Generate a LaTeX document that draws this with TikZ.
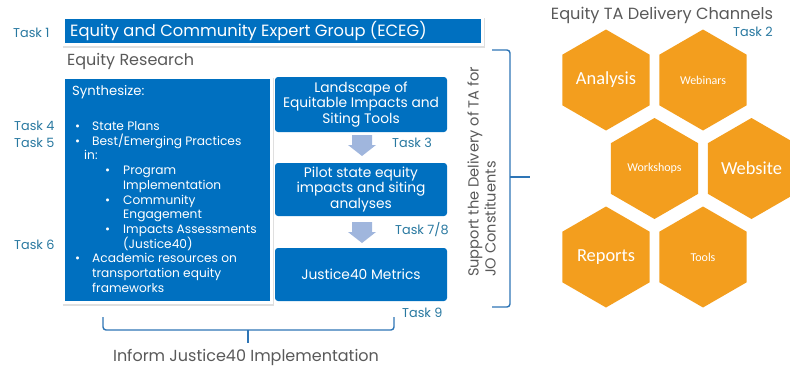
\documentclass[tikz,border=0pt]{standalone}
\usepackage{fontspec}
\setmainfont{Poppins}
\newfontfamily\hexfont{Carlito}
\usetikzlibrary{shapes.geometric,shadows,calc}
\definecolor{boxblue}{RGB}{0,112,192}
\definecolor{taskcol}{RGB}{40,120,160}
\definecolor{graytxt}{RGB}{89,89,89}
\definecolor{hexor}{RGB}{243,158,30}
\definecolor{arrcol}{RGB}{160,182,221}
\definecolor{brcol}{RGB}{46,117,182}
\newcommand\Bul{\makebox[17pt][l]{\textbullet}}
\newcommand\Sbul{\makebox[18pt][l]{\textbullet}}
\begin{document}
\begin{tikzpicture}[x=1pt,y=-1pt,
  tasklbl/.style={text=taskcol, font=\fontsize{12.8}{14}\selectfont, inner sep=0},
  graylbl/.style={text=graytxt, font=\fontsize{16}{18}\selectfont, inner sep=0},
  lst/.style={text=white, font=\fontsize{12.2}{14}\selectfont, inner sep=0, anchor=base west},
  rbox/.style={fill=boxblue, rounded corners=3pt},
  rtxt/.style={text=white, font=\fontsize{13.8}{15.6}\selectfont, align=center, inner sep=0},
  hexa/.style={regular polygon, regular polygon sides=6, shape border rotate=90, minimum size=101pt, inner sep=0, fill=hexor, text=white},
  bigh/.style={font=\hexfont\fontsize{18.4}{20}\selectfont},
  smallh/.style={font=\hexfont\fontsize{12}{14}\selectfont},
  brace/.style={draw=brcol, line width=1.4pt, rounded corners=3pt},
  blkarrow/.style={fill=arrcol},
  wshadow/.style={fill=white, drop shadow={shadow xshift=1pt, shadow yshift=-1.5pt, opacity=0.25}}
]
\useasboundingbox (0,0) rectangle (790,367);

% ECEG box
\path[wshadow] (62,16) rectangle (484,46);
\path[fill=boxblue] (65,19) rectangle (481,43);
\node[anchor=west, text=white, font=\fontsize{16.3}{18}\selectfont, inner sep=0] (eceg) at (70,31) {Equity and Community Expert Group (ECEG)};
\node[tasklbl, anchor=west] (t1) at (13,33) {Task 1};

\node[graylbl, anchor=west] (er) at (67,61) {Equity Research};

% Synthesize box
\path[wshadow] (62,76) rectangle (273,304);
\path[fill=boxblue] (65,79) rectangle (270,301);
\node[anchor=west, text=white, font=\fontsize{13.2}{15}\selectfont, inner sep=0] (syn) at (72,92) {Synthesize:};
\node[lst] (l1) at (75,130.5) {\Bul State Plans};
\node[lst] (l2) at (75,145.2) {\Bul Best/Emerging Practices};
\node[lst] (l3) at (84,159.9) {in:};
\node[lst] (l4) at (105,174.6) {\Sbul Program};
\node[lst] (l5) at (123,189.3) {Implementation};
\node[lst] (l6) at (105,204) {\Sbul Community};
\node[lst] (l7) at (123,218.7) {Engagement};
\node[lst] (l8) at (105,233.4) {\Sbul Impacts Assessments};
\node[lst] (l9) at (123,248.1) {(Justice40)};
\node[lst] (l10) at (75,262.8) {\Bul Academic resources on};
\node[lst] (l11) at (92,277.5) {transportation equity};
\node[lst] (l12) at (92,292.2) {frameworks};

\node[tasklbl, anchor=west] (t4) at (14,126) {Task 4};
\node[tasklbl, anchor=west] (t5) at (14,143) {Task 5};
\node[tasklbl, anchor=west] (t6) at (14,245) {Task 6};

% right column boxes
\path[rbox] (275,77) rectangle (447,132);
\node[rtxt] (b1) at (361,104.5) {Landscape of\\Equitable Impacts and\\Siting Tools};
\path[rbox] (275,163) rectangle (447,216);
\node[rtxt] (b2) at (361,189.5) {Pilot state equity\\impacts and siting\\analyses};
\path[rbox] (275,248) rectangle (447,301);
\node[rtxt] (b3) at (361,274) {Justice40 Metrics};

% block arrows
\coordinate (a1) at (362,135);
\coordinate (a2) at (362,222);
\foreach \a in {a1,a2}{
  \path[blkarrow] ($(\a)+(-10,0)$) -- ($(\a)+(10,0)$) -- ($(\a)+(10,10)$) -- ($(\a)+(14,10)$) -- ($(\a)+(0,21)$) -- ($(\a)+(-14,10)$) -- ($(\a)+(-10,10)$) -- cycle;
}
\node[tasklbl, anchor=west] (t3) at (392,143) {Task 3};
\node[tasklbl, anchor=west] (t78) at (395,230) {Task 7/8};
\node[tasklbl, anchor=west] (t9) at (402,313) {Task 9};

% bottom brace
\coordinate (bb1) at (103,317);
\coordinate (bb2) at (394,317);
\coordinate (bbm) at (248,343);
\draw[brace] (bb1) -- (103,330) -- (394,330) -- (bb2);
\draw[brace, rounded corners=0] (248,330) -- (bbm);
\node[graylbl] (inf) at (246,357) {Inform Justice40 Implementation};

% right brace
\coordinate (rb1) at (492,50);
\coordinate (rb2) at (492,307);
\coordinate (rbm) at (530,177);
\draw[brace] (rb1) -- (510,50) -- (510,307) -- (rb2);
\draw[brace, rounded corners=0] (510,177) -- (rbm);
\node[rotate=90, text=graytxt, font=\fontsize{14.6}{17}\selectfont, align=left, inner sep=0] (sup) at (481.5,172) {Support the Delivery of TA for\\JO Constituents};

% channels
\node[text=graytxt, font=\fontsize{16.2}{18}\selectfont, inner sep=0] (chan) at (662,15) {Equity TA Delivery Channels};
\node[tasklbl, anchor=east] (t2) at (773,32) {Task 2};

\node[hexa, bigh] (h1) at (606,80) {Analysis};
\node[hexa, smallh] (h2) at (703,80) {Webinars};
\node[hexa, smallh] (h3) at (654.5,168.5) {Workshops};
\node[hexa, bigh] (h4) at (751.5,168.5) {Website};
\node[hexa, bigh] (h5) at (606,257) {Reports};
\node[hexa, smallh] (h6) at (703,257) {Tools};
\end{tikzpicture}
\end{document}
